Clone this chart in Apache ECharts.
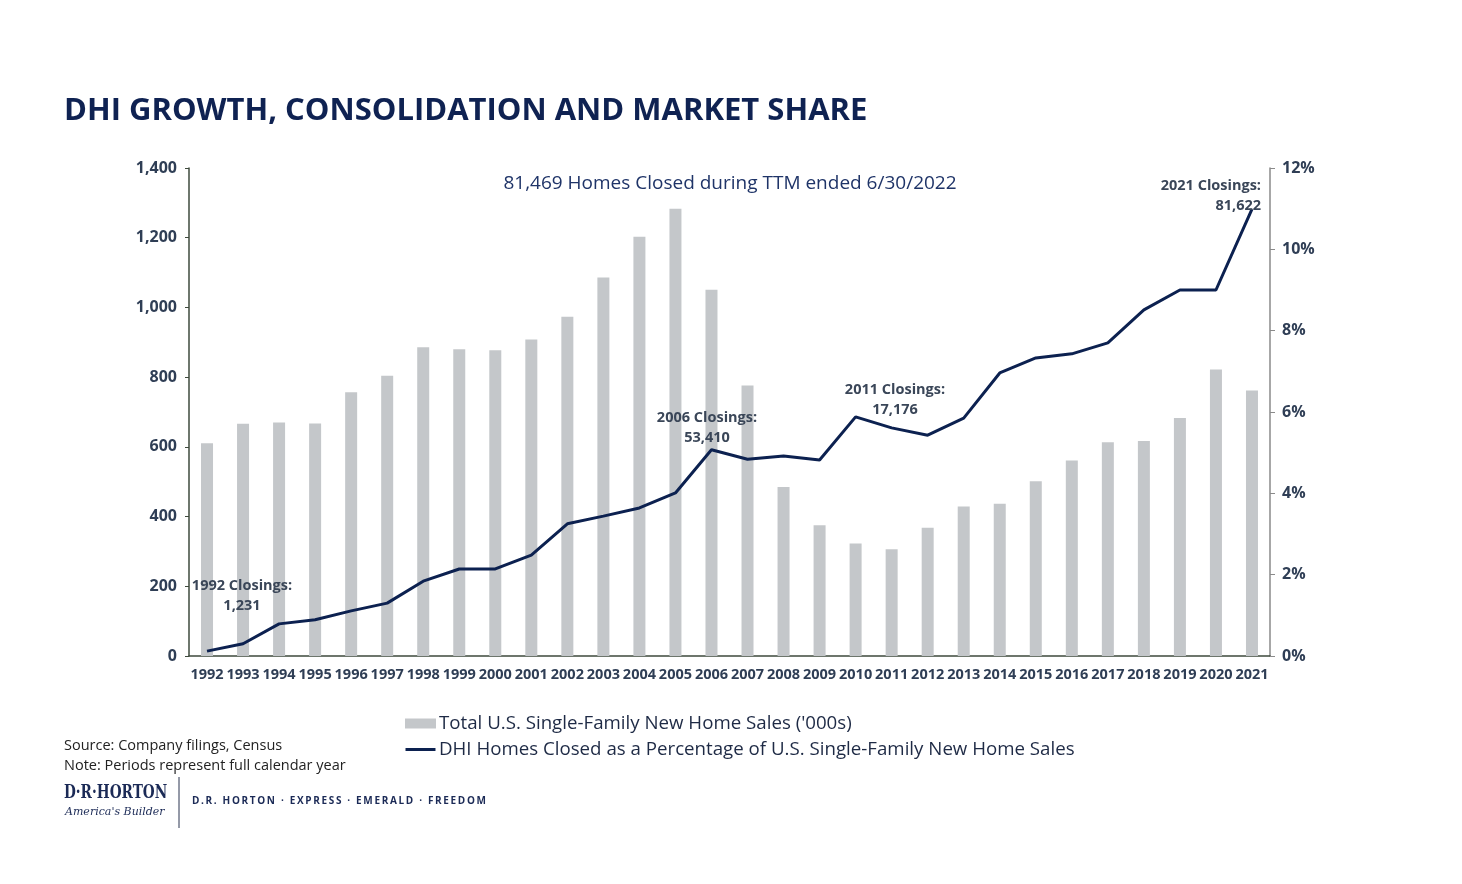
<!DOCTYPE html>
<html>
<head>
<meta charset="utf-8">
<script src="https://cdn.jsdelivr.net/npm/echarts@6/dist/echarts.min.js"></script>
<style>
  html, body { margin: 0; padding: 0; background: #fff; }
  #chart { width: 1462px; height: 884px; }
</style>
</head>
<body>
<div id="chart"></div>
<script>
// data
var years = ['1992','1993','1994','1995','1996','1997','1998','1999','2000','2001',
  '2002','2003','2004','2005','2006','2007','2008','2009','2010','2011',
  '2012','2013','2014','2015','2016','2017','2018','2019','2020','2021'];
// Total U.S. single-family new home sales ('000s)
var homeSales = [610, 666, 670, 667, 757, 804, 886, 880, 877, 908,
  973, 1086, 1203, 1283, 1051, 776, 485, 375, 323, 306,
  368, 429, 437, 501, 561, 613, 617, 683, 822, 762];
// DHI closings as % of those sales
var dhiShare = [0.12, 0.30, 0.79, 0.89, 1.11, 1.30, 1.84, 2.14, 2.14, 2.48,
  3.25, 3.44, 3.64, 4.01, 5.07, 4.84, 4.92, 4.82, 5.88, 5.61,
  5.43, 5.85, 6.96, 7.33, 7.43, 7.70, 8.51, 9.00, 9.00, 10.99];
var salesName = "Total U.S. Single-Family New Home Sales ('000s)";
var shareName = 'DHI Homes Closed as a Percentage of U.S. Single-Family New Home Sales';

var navy = '#0c2150';
var labelColor = '#2f3e55';
var noteColor = '#3a4658';
var font = '"Open Sans", "Noto Sans", sans-serif';

var chart = echarts.init(document.getElementById('chart'));

// bold two-line callouts, x/y is the anchor of the first line
function note(text, x, y, align) {
  return {
    type: 'text', x: x, y: y, z: 100,
    style: {
      text: text, fill: noteColor, font: 'bold 14.5px ' + font,
      align: align || 'center', verticalAlign: 'top', lineHeight: 20
    }
  };
}

// spread letters a bit (tagline in the logo strip is letter-spaced)
function spaced(s) {
  return s.split('').join('\u2009');
}

var option = {
  backgroundColor: '#fff',
  animation: false,
  textStyle: { fontFamily: font },
  grid: { left: 189, right: 192, top: 168, bottom: 228 },
  legend: {
    orient: 'vertical',
    left: 400, top: 709,
    itemGap: 7,
    itemWidth: 31, itemHeight: 10,
    textStyle: { fontSize: 18.7, color: '#1e2a45', padding: [0, 0, 0, -2] },
    data: [
      { name: salesName, icon: 'rect' },
      { name: shareName, icon: 'path://M0,0L0,0.01L0.01,0.01ZM0,3.6L30,3.6L30,6.4L0,6.4ZM0,10L0,10.01L0.01,10.01Z' }
    ]
  },
  xAxis: {
    type: 'category',
    data: years,
    axisLine: { lineStyle: { color: '#3e4a3c', width: 1.5 } },
    axisTick: { show: false },
    axisLabel: { interval: 0, color: labelColor, fontWeight: 'bold', fontSize: 14.5, margin: 11 }
  },
  yAxis: [
    {
      type: 'value', min: 0, max: 1400, interval: 200,
      axisLine: { show: true, lineStyle: { color: '#3e4a3c', width: 1.5 } },
      axisTick: { show: true, length: 4, lineStyle: { color: '#3e4a3c' } },
      splitLine: { show: false },
      axisLabel: {
        color: labelColor, fontWeight: 'bold', fontSize: 16, margin: 12,
        formatter: function (v) { return v.toLocaleString('en-US'); }
      }
    },
    {
      type: 'value', min: 0, max: 12, interval: 2,
      axisLine: { show: true, lineStyle: { color: '#8a8a8a', width: 1.5 } },
      axisTick: { show: true, length: 5, lineStyle: { color: '#8a8a8a' } },
      splitLine: { show: false },
      axisLabel: { color: labelColor, fontWeight: 'bold', fontSize: 16, margin: 12, formatter: '{value}%' }
    }
  ],
  series: [
    {
      name: salesName,
      type: 'bar',
      data: homeSales,
      barWidth: 12,
      itemStyle: { color: '#c4c7ca' }
    },
    {
      name: shareName,
      type: 'line',
      yAxisIndex: 1,
      data: dhiShare,
      symbol: 'none',
      lineStyle: { color: navy, width: 3 },
      itemStyle: { color: navy }
    }
  ],
  graphic: [
    {
      type: 'text', left: 64, top: 96,
      style: { text: 'DHI GROWTH, CONSOLIDATION AND MARKET SHARE', fill: '#0f2252', font: 'bold 31px ' + font }
    },
    {
      type: 'text', x: 730, y: 184, z: 100,
      style: {
        text: '81,469 Homes Closed during TTM ended 6/30/2022', fill: '#1f3468',
        font: '19px ' + font, align: 'center', verticalAlign: 'middle'
      }
    },
    note('2021 Closings:\n81,622', 1261, 176, 'right'),
    note('2011 Closings:\n17,176', 895, 380),
    note('2006 Closings:\n53,410', 707, 408),
    note('1992 Closings:\n1,231', 242, 576),
    {
      type: 'text', left: 64, top: 736,
      style: { text: 'Source: Company filings, Census\nNote: Periods represent full calendar year', fill: '#222', font: '14.5px ' + font, lineHeight: 20 }
    },
    {
      type: 'text', x: 64, y: 784, scaleX: 0.8,
      style: { text: 'D·R·HORTON', fill: '#1b2a56', font: 'bold 19px "DejaVu Serif Condensed", "DejaVu Serif", serif' }
    },
    {
      type: 'text', left: 65, top: 807,
      style: { text: "America's Builder", fill: '#1b2a56', font: 'italic 11px "DejaVu Serif", serif' }
    },
    {
      type: 'line', shape: { x1: 179, y1: 777, x2: 179, y2: 828 },
      style: { stroke: '#2b3550', lineWidth: 1 }
    },
    {
      type: 'text', left: 192, top: 796,
      style: { text: spaced('D.R. HORTON · EXPRESS · EMERALD · FREEDOM'), fill: '#1b2a56', font: 'bold 10px ' + font }
    }
  ]
};

chart.setOption(option);
</script>
</body>
</html>
